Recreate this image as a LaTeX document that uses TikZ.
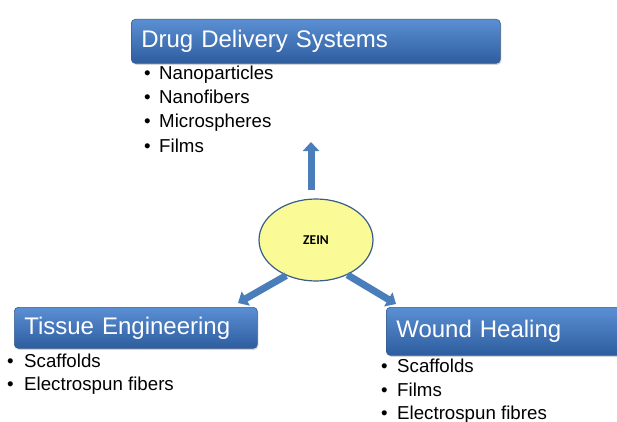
\documentclass[tikz,border=0pt]{standalone}
\usepackage{fontspec}
\setmainfont{Liberation Sans}
\newfontfamily\zeinfont{Carlito}
\usetikzlibrary{shapes.geometric,arrows.meta,shadows}

\definecolor{boxtop}{HTML}{5B8FD3}
\definecolor{boxbot}{HTML}{2D5D9F}
\definecolor{boxline}{HTML}{385D8A}
\definecolor{arrowblue}{HTML}{4A7EBB}
\definecolor{zeinfill}{HTML}{FAFA96}

\tikzset{
  topic/.style={draw=boxline, line width=0.6pt, rounded corners=4pt,
    top color=boxtop, bottom color=boxbot, text=white,
    anchor=north west, inner xsep=10pt, align=left,
    font=\fontsize{24}{28}\selectfont,
    drop shadow={opacity=0.35, shadow xshift=1pt, shadow yshift=-1.5pt}},
  item/.style={anchor=base west, inner sep=0pt, font=\fontsize{18.7}{22}\selectfont},
  blockarrow/.style={draw=arrowblue, line width=7pt,
    -{Triangle[width=16pt,length=9pt]}}
}

\begin{document}
\begin{tikzpicture}[x=1pt,y=-1pt]
  \useasboundingbox (0,0) rectangle (617,422);

  % the three application areas
  \node[topic, text width=349pt, minimum height=44pt] (dds) at (131,19) {Drug Delivery Systems};
  \node[topic, text width=223pt, minimum height=41pt] (tissue) at (14,307) {Tissue Engineering};
  \node[topic, text width=225pt, minimum height=48pt] (wound) at (386,307) {Wound Healing};

  % what each area uses
  \foreach \t [count=\i] in {Nanoparticles,Nanofibers,Microspheres,Films}
    \node[item] (dds\i) at (144,56+24*\i) {\makebox[15pt][l]{\textbullet}\t};
  \foreach \t [count=\i] in {Scaffolds,Electrospun fibers}
    \node[item] (tissue\i) at (7,344+23*\i) {\makebox[17pt][l]{\textbullet}\t};
  \foreach \t [count=\i] in {Scaffolds,Films,Electrospun fibres}
    \node[item] (wound\i) at (381,349+23.5*\i) {\makebox[16pt][l]{\textbullet}\t};

  % zein in the middle
  \node[ellipse, draw=boxline, line width=1.2pt, fill=zeinfill,
    minimum width=114pt, minimum height=82pt,
    font=\zeinfont\bfseries\fontsize{13.5}{16}\selectfont] (zein) at (316,240) {ZEIN};

  \coordinate (up) at (311,142);
  \coordinate (downleft) at (238,303);
  \coordinate (downright) at (396,304);

  \draw[blockarrow, shorten <=8pt] (up |- zein.north) -- (up);
  \draw[blockarrow] (zein.-130) -- (downleft);
  \draw[blockarrow] (zein.-48) -- (downright);
\end{tikzpicture}
\end{document}
